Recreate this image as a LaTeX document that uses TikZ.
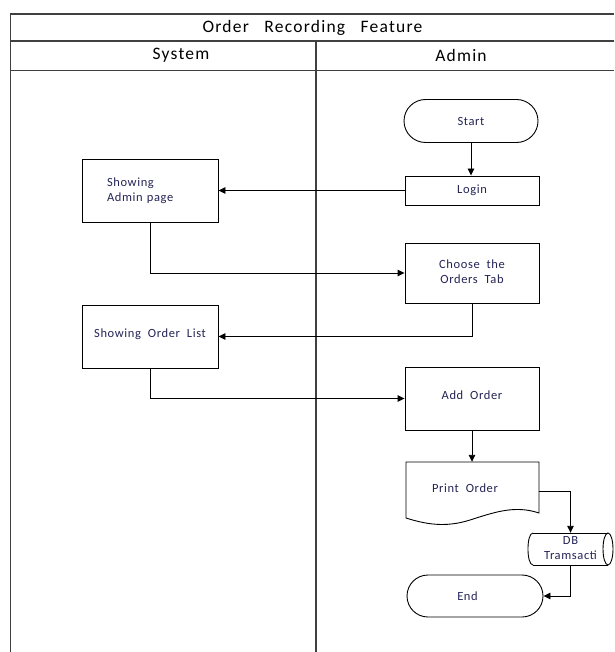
\documentclass[tikz,border=0pt]{standalone}
\usepackage{fontspec}
\setmainfont{Carlito}
\newfontfamily\hdrfont[LetterSpace=7,WordSpace=3]{Carlito}
\newfontfamily\boxfont[LetterSpace=5,WordSpace=2]{Carlito}
\usetikzlibrary{arrows.meta,shapes.misc}
\definecolor{txtblue}{RGB}{35,35,85}
\definecolor{framegray}{RGB}{64,64,64}
\tikzset{
  x=1pt, y=-1pt,
  frameline/.style={draw=framegray, line width=1.3pt},
  hdr/.style={font=\hdrfont\fontsize{17.5}{20}\selectfont, text=black, inner sep=0pt},
  boxtxt/.style={font=\boxfont\fontsize{12.5}{15.5}\selectfont, text=txtblue, align=center},
  outline/.style={draw=black, line width=0.9pt},
  procbox/.style={boxtxt, outline, rectangle, inner sep=0pt},
  termbox/.style={boxtxt, outline, rounded rectangle, inner sep=0pt},
  flow/.style={draw=black, line width=0.9pt, -{Triangle[length=7pt,width=6.5pt]}},
}
\begin{document}
\begin{tikzpicture}
\useasboundingbox (0,0) rectangle (614,652);
% swimlane frame
\draw[frameline] (10.5,652) -- (10.5,14) -- (614,14);
\draw[frameline] (10.5,41) -- (614,41);
\draw[frameline] (10.5,70.5) -- (614,70.5);
\draw[frameline] (316,41) -- (316,652);
\node[hdr] (title) at (312.5,28) {Order Recording Feature};
\node[hdr] (sys) at (181,55) {System};
\node[hdr] (adm) at (461,55) {Admin};
% nodes
\node[termbox, minimum width=134pt, minimum height=43pt] (start) at (471,121) {Start};
\node[procbox, minimum width=134pt, minimum height=29pt] (login) at (472,190.5) {Login};
\node[procbox, minimum width=136pt, minimum height=63pt, align=left, text width=86pt, inner xsep=25pt] (admin) at (150,190.5) {Showing\\Admin page};
\node[procbox, minimum width=134pt, minimum height=60pt] (choose) at (472,273) {\raisebox{1pt}{\begin{tabular}{@{}c@{}}Choose the\\Orders Tab\end{tabular}}};
\node[procbox, minimum width=136pt, minimum height=63pt] (list) at (150,336.5) {\raisebox{6pt}{Showing Order List}};
\node[procbox, minimum width=134pt, minimum height=63pt] (add) at (472,398.5) {\raisebox{6pt}{Add Order}};
% document shape
\draw[outline] (406,462) -- (539,462) -- (539,513)
  .. controls (515,505) and (495,512) .. (470,520)
  .. controls (445,528) and (425,524) .. (406,518) -- cycle;
\node[boxtxt, minimum width=133pt, minimum height=58pt, inner sep=0pt] (print) at (472.5,491) {\hspace*{-15pt}\raisebox{6pt}{Print Order}};
% database (horizontal cylinder)
\draw[outline] (533,533) -- (608,533);
\draw[outline] (533,565) -- (608,565);
\draw[outline] (533,565) .. controls (526.3,565) and (526.3,533) .. (533,533);
\draw[outline] (608,549) ellipse [x radius=5, y radius=16];
\node[boxtxt, minimum width=85pt, minimum height=32pt, inner sep=0pt] (db) at (570.5,549) {\raisebox{-6pt}{\begin{tabular}{@{}c@{}}DB\\Tramsacti\end{tabular}}};
\node[termbox, minimum width=136pt, minimum height=42pt] (end) at (475,596) {\hspace*{-15pt}End};
% connectors
\draw[flow] (start.south) -- (start.south |- login.north);
\draw[flow] (login.west) -- (admin.east);
\draw[flow] (admin.south) |- (choose.west);
\draw[flow] (choose.south) |- (list.east);
\draw[flow] (list.south) |- (add.west);
\draw[flow] (add.south) -- (add.south |- print.north);
\draw[flow] (print.east) -| (db.north);
\draw[flow] (db.south) |- (end.east);
\end{tikzpicture}
\end{document}
